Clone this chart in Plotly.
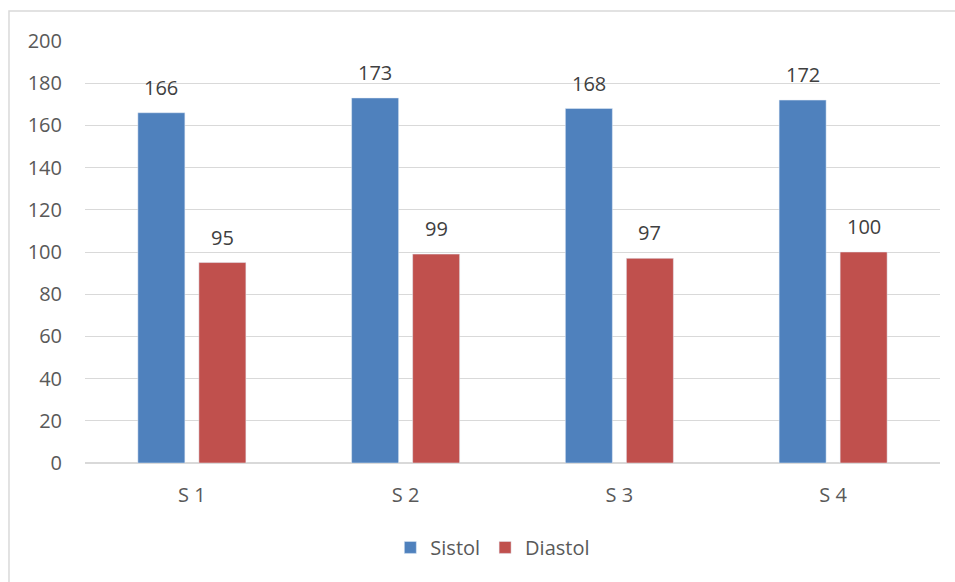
import plotly.graph_objects as go

categories = ["S 1", "S 2", "S 3", "S 4"]
sistol = [166, 173, 168, 172]
diastol = [95, 99, 97, 100]
y_ticks = [0, 20, 40, 60, 80, 100, 120, 140, 160, 180, 200]

FONT = "Open Sans"
TXT = "#595959"
SZ = 20

fig = go.Figure()
fig.add_trace(go.Bar(name="Sistol", x=categories, y=sistol, marker_color="#4F81BD"))
fig.add_trace(go.Bar(name="Diastol", x=categories, y=diastol, marker_color="#C0504D"))

annotations = []
for series, dx in ((sistol, -30.5), (diastol, 30.5)):
    for c, v in zip(categories, series):
        annotations.append(dict(x=c, y=v, xref="x", yref="y", text=str(v),
                                showarrow=False, xshift=dx, yshift=10, yanchor="bottom",
                                font=dict(family=FONT, size=SZ, color="#404040")))

fig.update_layout(
    width=955, height=582,
    margin=dict(l=85, r=15, t=41, b=119),
    paper_bgcolor="white", plot_bgcolor="white",
    barmode="group", bargap=0.429, bargroupgap=0.23,
    font=dict(family=FONT, size=SZ, color=TXT),
    showlegend=True,
    legend=dict(orientation="h", x=0.477, xanchor="center", y=-0.2, yanchor="middle",
                font=dict(family=FONT, size=SZ, color=TXT), itemwidth=30,
                traceorder="normal"),
    xaxis=dict(showgrid=False, showline=False, ticks="", ticklabelstandoff=18,
               tickfont=dict(size=SZ, color=TXT)),
    yaxis=dict(range=[0, 200], tickvals=y_ticks, showgrid=True, gridcolor="#D9D9D9",
               gridwidth=1, zeroline=True, zerolinecolor="#D9D9D9", zerolinewidth=2,
               showline=False, ticks="", ticklabelstandoff=22,
               tickfont=dict(size=SZ, color=TXT)),
    annotations=annotations,
    shapes=[dict(type="rect", xref="paper", yref="paper",
                 x0=-0.0889, x1=1.2, y0=-0.6, y1=1.0711,
                 line=dict(color="#D9D9D9", width=1.5), layer="below")],
)

fig.write_html("out.html")
